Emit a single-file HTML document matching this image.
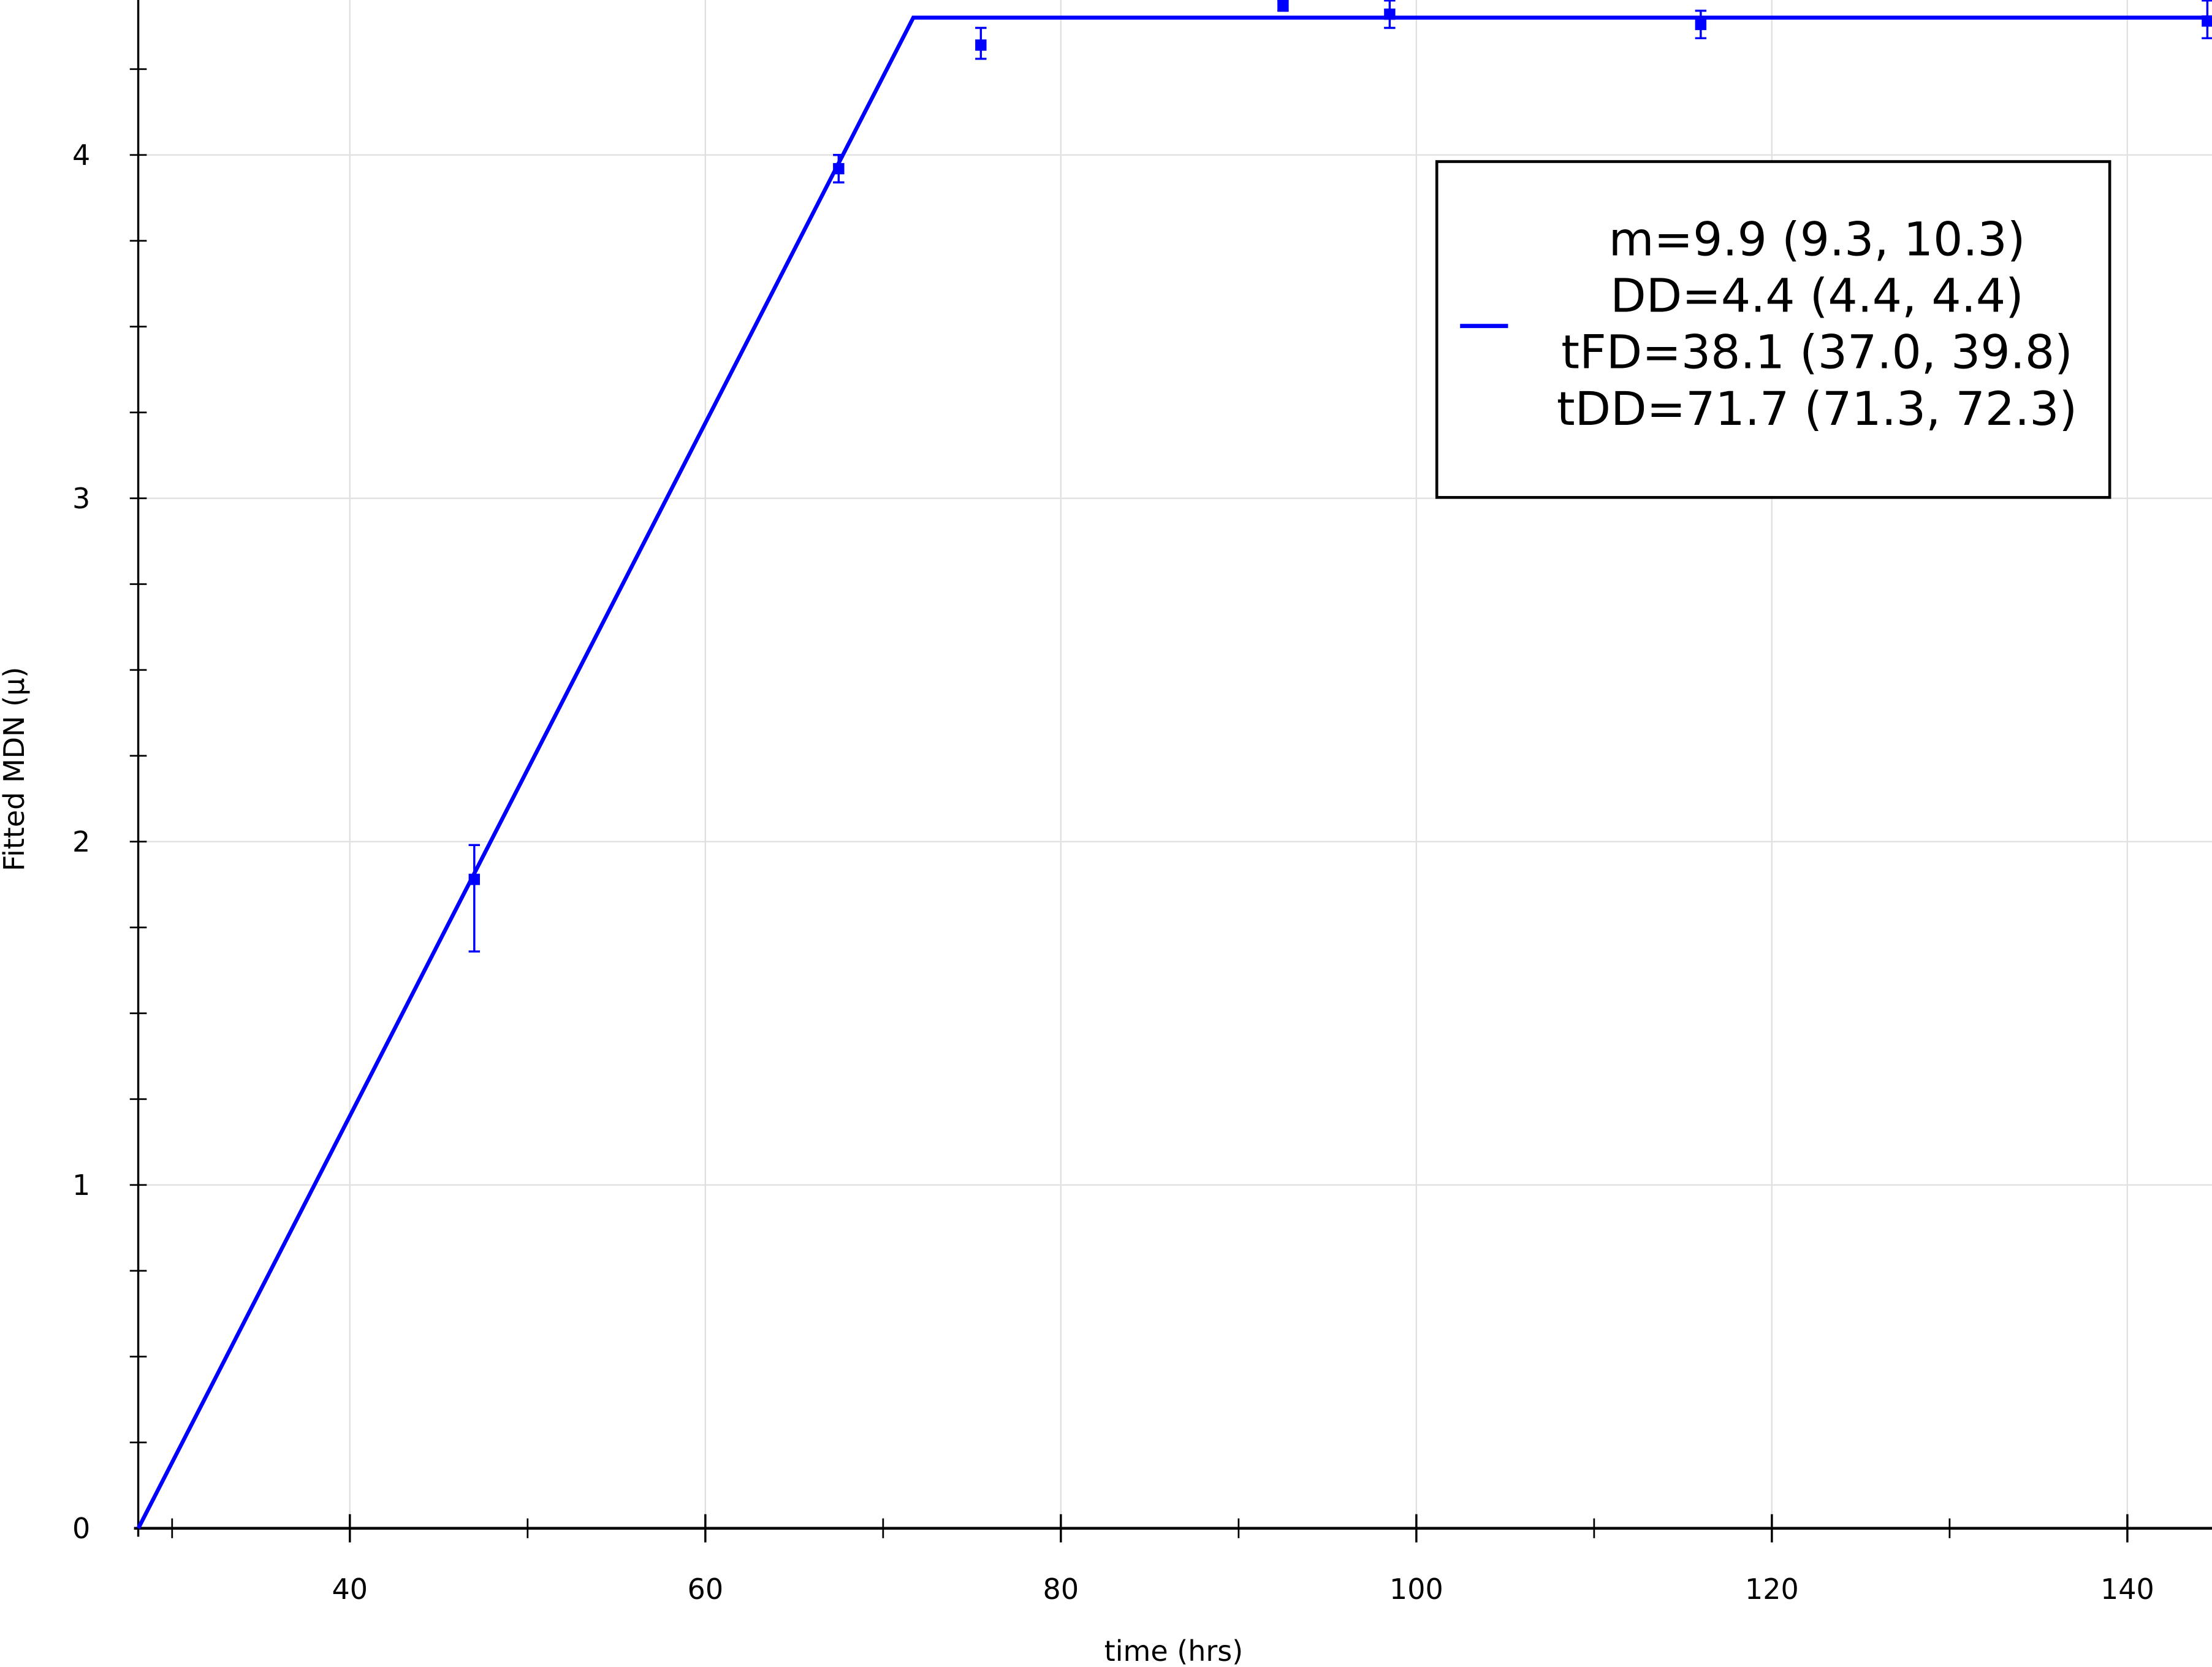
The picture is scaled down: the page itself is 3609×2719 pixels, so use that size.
<!DOCTYPE html>
<html><head><meta charset="utf-8"><style>
html,body{margin:0;padding:0;background:#fff;}
svg{display:block;font-family:"DejaVu Sans","Liberation Sans",sans-serif;}
</style></head><body>
<svg id="chart" width="3609" height="2719" viewBox="0 0 1568 1181.3" preserveAspectRatio="none" xmlns="http://www.w3.org/2000/svg">
<g id="grid"></g>
<g id="axes"></g>
<g id="series"></g>
<g id="points"></g>
<text x="832" y="1177" font-size="20" text-anchor="middle">time (hrs)</text>
<text x="0" y="0" font-size="20" text-anchor="middle" transform="translate(17,545) rotate(-90)">Fitted MDN (µ)</text>
<g>
<rect x="1018.5" y="114.5" width="477" height="238" fill="#fff" stroke="#000" stroke-width="2"/>
<line x1="1035" y1="231" x2="1069" y2="231" stroke="#0000ff" stroke-width="3"/>
<g font-size="33" text-anchor="middle">
<text x="1288" y="181">m=9.9 (9.3, 10.3)</text>
<text x="1288" y="221">DD=4.4 (4.4, 4.4)</text>
<text x="1288" y="261">tFD=38.1 (37.0, 39.8)</text>
<text x="1288" y="301">tDD=71.7 (71.3, 72.3)</text>
</g></g>
</svg>
<script>
const xTicks=[40,60,80,100,120,140];
const xMinor=[30,50,70,90,110,130];
const yTicks=[0,1,2,3,4];
const fitX=[28.1,71.7,145];
const fitY=[0,4.4,4.4];
const ptX=[47,67.5,75.5,92.5,98.5,116,144.5];
const ptY=[1.89,3.96,4.32,4.435,4.41,4.38,4.39];
const ptLo=[1.68,3.92,4.28,4.42,4.37,4.34,4.34];
const ptHi=[1.99,4.00,4.37,4.45,4.45,4.42,4.45];
const NS="http://www.w3.org/2000/svg";
const X0=98,Y0=1083;
const sx=v=>248+(v-40)*12.6;
const sy=v=>1083-v*243.3;
function mk(p,t,a){const e=document.createElementNS(NS,t);for(const k in a)e.setAttribute(k,a[k]);p.appendChild(e);return e;}
const grid=document.getElementById('grid'),axes=document.getElementById('axes'),ser=document.getElementById('series'),pts=document.getElementById('points');
xTicks.forEach(v=>{
 const g=mk(grid,'line',{x1:sx(v),y1:0,x2:sx(v),y2:Y0,stroke:'#e0e0e0','stroke-width':1});
 
 
 const t=mk(axes,'line',{x1:sx(v),y1:Y0-10,x2:sx(v),y2:Y0+10,stroke:'#000','stroke-width':1.5});
 
 
 const l=mk(axes,'text',{x:sx(v),y:1133,'font-size':20,'text-anchor':'middle'});l.textContent=v;
 
 
});
xMinor.forEach(v=>{
 const t=mk(axes,'line',{x1:sx(v),y1:Y0-7,x2:sx(v),y2:Y0+7,stroke:'#000','stroke-width':1.2});
 
 
});
yTicks.forEach(v=>{
 const g=mk(grid,'line',{x1:X0,y1:sy(v),x2:1568,y2:sy(v),stroke:'#e0e0e0','stroke-width':1});
 
 
 const l=mk(axes,'text',{x:64,y:sy(v)+7,'font-size':20,'text-anchor':'end'});l.textContent=v;
 
 
});
for(let v=0.25;v<4.45;v+=0.25){
 const t=mk(axes,'line',{x1:X0-6,y1:sy(v),x2:X0+6,y2:sy(v),stroke:'#000','stroke-width':1.2});
 
 
}
const xa=mk(axes,'line',{x1:95,y1:Y0,x2:1568,y2:Y0,stroke:'#000','stroke-width':2});


const ya=mk(axes,'line',{x1:X0,y1:0,x2:X0,y2:Y0+6,stroke:'#000','stroke-width':1.5});


const fit=mk(ser,'polyline',{points:fitX.map((x,i)=>sx(x)+','+sy(fitY[i])).join(' '),fill:'none',stroke:'#0000ff','stroke-width':2.8});


ptX.forEach((x,i)=>{
 const cx=sx(x);
 const e=mk(pts,'path',{d:`M${cx},${sy(ptLo[i])}V${sy(ptHi[i])}M${cx-4},${sy(ptLo[i])}h8M${cx-4},${sy(ptHi[i])}h8`,stroke:'#0000ff','stroke-width':1.5,fill:'none'});
 
 
 const r=mk(pts,'rect',{x:cx-4,y:sy(ptY[i])-4,width:8,height:8,fill:'#0000ff'});
 
 
});
</script>
</body></html>
